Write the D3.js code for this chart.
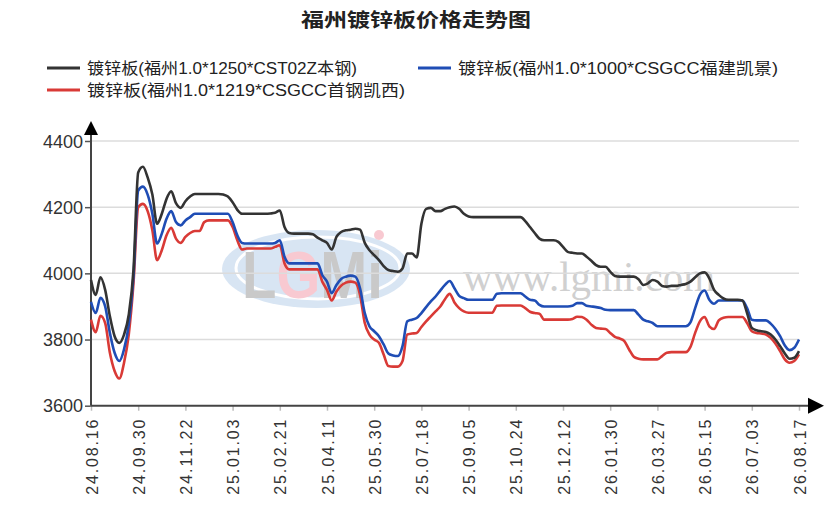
<!DOCTYPE html>
<html>
<head>
<meta charset="utf-8">
<script src="https://cdn.jsdelivr.net/npm/d3@7"></script>
<style>
  html, body { margin: 0; padding: 0; background: #fff; }
  #chart { width: 831px; height: 526px; }
</style>
</head>
<body>
<div id="chart"></div>
<script>
// 图表标题与图例
const chartTitle = '福州镀锌板价格走势图';
const seriesNames = [
  '镀锌板(福州1.0*1250*CST02Z本钢)',
  '镀锌板(福州1.0*1000*CSGCC福建凯景)',
  '镀锌板(福州1.0*1219*CSGCC首钢凯西)'
];
const seriesColors = ['#333333', '#1f4db5', '#d93a36'];

// X轴刻度标签（每10个数据点一个）
const tickLabels = [
  '24.08.16', '24.09.30', '24.11.22', '25.01.03', '25.02.21', '25.04.11',
  '25.05.30', '25.07.18', '25.09.05', '25.10.24', '25.12.12', '26.01.30',
  '26.03.27', '26.05.15', '26.07.03', '26.08.17'
];
const yTicks = [3600, 3800, 4000, 4200, 4400];

// 本钢
const benGang = [
  3980,3935,3988,3950,3870,3810,3790,3815,3875,4010,
  4305,4322,4290,4238,4150,4180,4225,4248,4212,4198,
  4218,4232,4240,4240,4240,4240,4240,4240,4238,4232,
  4215,4192,4180,4180,4180,4180,4180,4180,4181,4183,
  4190,4140,4122,4120,4120,4120,4120,4118,4108,4100,
  4092,4072,4110,4125,4130,4132,4135,4132,4092,4070,
  4055,4040,4022,4010,4007,4005,4015,4060,4060,4048,
  4150,4195,4198,4188,4188,4195,4200,4202,4195,4180,
  4172,4170,4170,4170,4170,4170,4170,4170,4170,4170,
  4170,4170,4158,4140,4122,4105,4100,4100,4100,4095,
  4080,4065,4062,4060,4060,4050,4038,4025,4020,4020,
  4005,3992,3990,3990,3990,3990,3982,3965,3970,3980,
  3975,3962,3960,3962,3962,3965,3968,3975,3988,4000,
  4003,3985,3950,3935,3924,3920,3920,3920,3918,3880,
  3835,3828,3825,3823,3815,3800,3780,3758,3742,3745,3765
];

// 福建凯景
const kaiJing = [
  3914,3880,3926,3900,3820,3760,3735,3770,3845,3990,
  4250,4262,4238,4180,4090,4120,4165,4188,4155,4145,
  4160,4170,4180,4180,4180,4180,4180,4180,4180,4180,
  4155,4115,4092,4090,4090,4090,4090,4090,4090,4092,
  4100,4050,4030,4030,4030,4030,4030,4030,4030,3995,
  3975,3940,3965,3983,3990,3993,3990,3955,3880,3840,
  3825,3810,3785,3758,3752,3750,3780,3855,3860,3865,
  3880,3898,3915,3930,3948,3965,3977,3955,3932,3925,
  3920,3920,3920,3920,3920,3920,3938,3940,3940,3940,
  3940,3940,3930,3920,3918,3905,3900,3900,3900,3900,
  3900,3900,3902,3910,3910,3902,3900,3898,3895,3890,
  3889,3889,3889,3889,3889,3889,3875,3860,3855,3850,
  3840,3840,3840,3840,3840,3840,3840,3852,3895,3935,
  3948,3920,3908,3918,3918,3918,3918,3918,3918,3895,
  3860,3858,3858,3858,3848,3832,3810,3782,3768,3775,3800
];

// 首钢凯西
const kaiXi = [
  3860,3822,3872,3850,3760,3705,3682,3730,3815,3970,
  4200,4210,4188,4130,4040,4070,4115,4138,4105,4092,
  4110,4122,4128,4128,4155,4160,4160,4160,4160,4160,
  4140,4100,4072,4075,4075,4075,4075,4075,4075,4080,
  4085,4030,4012,4012,4012,4012,4012,4012,4012,3975,
  3950,3918,3945,3963,3972,3975,3972,3935,3850,3815,
  3800,3790,3755,3720,3718,3718,3735,3815,3818,3820,
  3838,3855,3870,3885,3900,3922,3938,3912,3895,3885,
  3881,3881,3881,3881,3881,3881,3902,3903,3903,3903,
  3903,3903,3895,3884,3880,3878,3860,3860,3860,3860,
  3860,3860,3862,3869,3868,3860,3845,3835,3833,3832,
  3820,3808,3803,3795,3770,3748,3742,3740,3740,3740,
  3740,3750,3760,3762,3762,3762,3762,3778,3820,3855,
  3868,3840,3832,3858,3866,3868,3868,3868,3868,3850,
  3825,3820,3818,3815,3805,3788,3765,3740,3730,3735,3755
];

const width = 831;
const height = 526;
const margin = { top: 141, right: 32, bottom: 120, left: 91 };
const innerWidth = 799 - margin.left;
const innerHeight = 405.7 - margin.top;
const stepPerTick = 10;

const svg = d3.select('#chart')
  .append('svg')
  .attr('width', width)
  .attr('height', height)
  .style('font-family', '"Liberation Sans", Arial, "Noto Sans CJK SC", sans-serif');

svg.append('rect').attr('width', width).attr('height', height).attr('fill', '#fff');

// 标题
svg.append('text')
  .attr('x', 416)
  .attr('y', 27)
  .attr('text-anchor', 'middle')
  .attr('font-size', 19)
  .attr('font-weight', 'bold')
  .attr('fill', '#222')
  .attr('textLength', 230)
  .attr('lengthAdjust', 'spacingAndGlyphs')
  .style('font-family', '"Noto Sans CJK SC", sans-serif')
  .text(chartTitle);

// 图例
const legendItems = [
  { x: 47, y: 68, len: 270, color: seriesColors[0], name: seriesNames[0] },
  { x: 418, y: 68, len: 320, color: seriesColors[1], name: seriesNames[1] },
  { x: 47, y: 90, len: 318, color: seriesColors[2], name: seriesNames[2] }
];
const legend = svg.append('g').attr('class', 'legend');
legendItems.forEach(d => {
  legend.append('line')
    .attr('x1', d.x).attr('x2', d.x + 33)
    .attr('y1', d.y).attr('y2', d.y)
    .attr('stroke', d.color)
    .attr('stroke-width', 3);
  legend.append('text')
    .attr('x', d.x + 40)
    .attr('y', d.y + 6)
    .attr('font-size', 16)
    .attr('fill', '#222')
    .attr('textLength', d.len)
    .attr('lengthAdjust', 'spacingAndGlyphs')
    .text(d.name);
});

// 比例尺
const x = d3.scaleLinear()
  .domain([0, benGang.length - 1])
  .range([margin.left, margin.left + innerWidth]);

const y = d3.scaleLinear()
  .domain([3600, 4400])
  .range([margin.top + innerHeight, margin.top]);

// 水印
const wm = svg.append('g').attr('class', 'watermark').attr('opacity', 0.45);
wm.append('ellipse')
  .attr('cx', 316).attr('cy', 269)
  .attr('rx', 94).attr('ry', 39)
  .attr('fill', '#a9c6e6');
wm.append('ellipse')
  .attr('cx', 318).attr('cy', 268)
  .attr('rx', 82).attr('ry', 31)
  .attr('fill', 'none')
  .attr('stroke', '#fff')
  .attr('stroke-width', 3);
const logo = wm.append('text')
  .attr('x', 242).attr('y', 298)
  .attr('font-size', 66)
  .attr('font-weight', 'bold')
  .attr('textLength', 141)
  .attr('lengthAdjust', 'spacingAndGlyphs');
logo.append('tspan').attr('fill', '#888').text('L');
logo.append('tspan').attr('fill', '#f08a9a').text('G');
logo.append('tspan').attr('fill', '#888').text('Mi');
wm.append('circle').attr('cx', 379).attr('cy', 235).attr('r', 5).attr('fill', '#f08a9a');
svg.append('text')
  .attr('x', 463).attr('y', 291)
  .attr('font-size', 42)
  .attr('fill', '#d0d0d0')
  .attr('textLength', 252)
  .attr('lengthAdjust', 'spacingAndGlyphs')
  .style('font-family', '"Liberation Serif", "DejaVu Serif", serif')
  .text('www.lgmi.com');

// 网格线
svg.append('g')
  .attr('class', 'grid')
  .selectAll('line')
  .data(yTicks.filter(v => v > 3600))
  .enter()
  .append('line')
  .attr('x1', margin.left)
  .attr('x2', margin.left + innerWidth)
  .attr('y1', d => y(d))
  .attr('y2', d => y(d))
  .attr('stroke', '#dcdcdc')
  .attr('stroke-width', 1.5);

// Y轴
const yAxis = svg.append('g')
  .attr('transform', `translate(${margin.left},0)`)
  .call(d3.axisLeft(y).tickValues(yTicks).tickFormat(d3.format('d')).tickSize(6).tickPadding(2));
yAxis.select('.domain').remove();
yAxis.selectAll('.tick line').attr('stroke', '#555').attr('stroke-width', 1.5);
yAxis.selectAll('.tick text')
  .attr('font-size', 18)
  .attr('fill', '#333')
  .attr('dy', null)
  .attr('y', 6)
  .style('font-family', '"Liberation Sans", Arial, sans-serif');

// X轴
const xTickValues = tickLabels.map((d, i) => i * stepPerTick);
const xAxis = svg.append('g')
  .attr('transform', `translate(0,${margin.top + innerHeight})`)
  .call(d3.axisBottom(x)
    .tickValues(xTickValues)
    .tickSize(5)
    .tickFormat((d, i) => tickLabels[i]));
xAxis.select('.domain').remove();
xAxis.selectAll('.tick line').attr('stroke', '#bbb').attr('stroke-width', 1.5);
xAxis.selectAll('.tick text')
  .attr('font-size', 16)
  .attr('fill', '#333')
  .attr('text-anchor', 'end')
  .attr('transform', 'translate(0,14) rotate(-90)')
  .attr('x', 0)
  .attr('y', 6)
  .attr('dy', null)
  .attr('textLength', 75)
  .attr('lengthAdjust', 'spacing')
  .style('font-family', '"Liberation Sans", Arial, sans-serif');

// 坐标轴线与箭头
const x0 = margin.left;
const y0 = margin.top + innerHeight;
svg.append('line')
  .attr('x1', x0).attr('x2', x0)
  .attr('y1', y0).attr('y2', 128)
  .attr('stroke', '#444').attr('stroke-width', 2);
svg.append('line')
  .attr('x1', x0).attr('x2', 812)
  .attr('y1', y0).attr('y2', y0)
  .attr('stroke', '#444').attr('stroke-width', 2);
svg.append('path')
  .attr('d', `M${x0},121 L${x0 - 7},135 L${x0 + 7},135 Z`)
  .attr('fill', '#000');
svg.append('path')
  .attr('d', `M824,${y0} L808,${y0 - 8} L808,${y0 + 8} Z`)
  .attr('fill', '#000');

// 折线
const line = d3.line()
  .x((d, i) => x(i))
  .y(d => y(d))
  .curve(d3.curveMonotoneX);

[
  { data: kaiXi, color: seriesColors[2] },
  { data: kaiJing, color: seriesColors[1] },
  { data: benGang, color: seriesColors[0] }
].forEach(s => {
  svg.append('path')
    .datum(s.data)
    .attr('d', line)
    .attr('fill', 'none')
    .attr('stroke', s.color)
    .attr('stroke-width', 2.6)
    .attr('stroke-linejoin', 'round');
});
</script>
</body>
</html>
